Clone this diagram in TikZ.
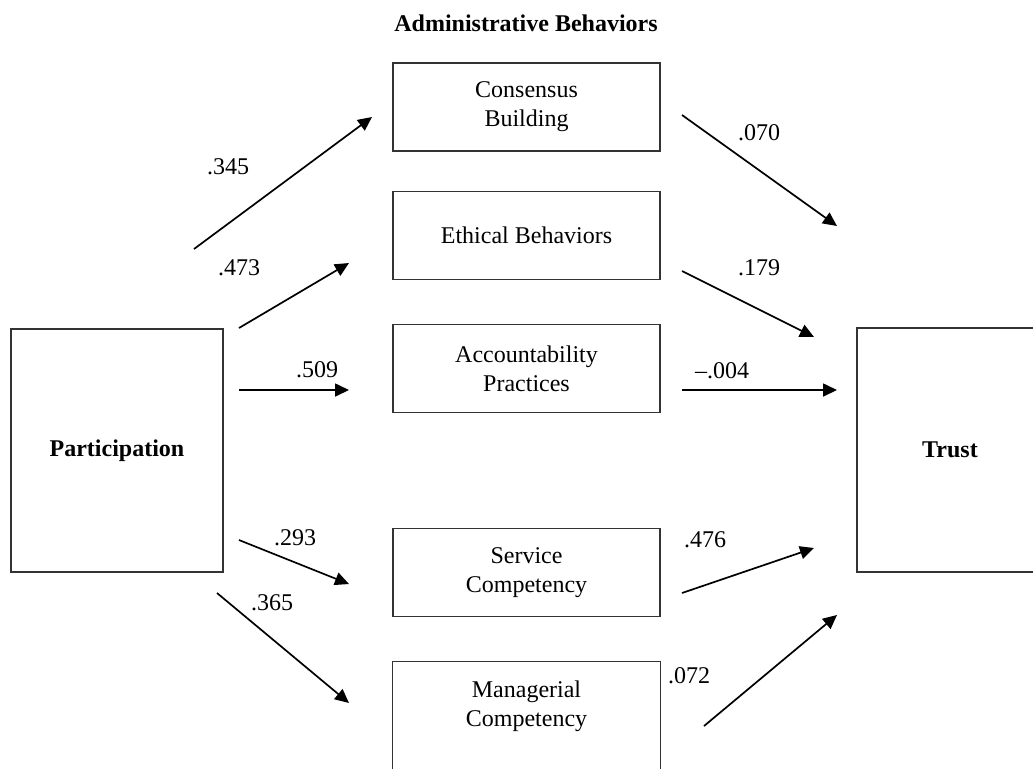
\documentclass[tikz,border=0pt]{standalone}
\usepackage{fontspec}
\setmainfont{Liberation Serif}
\usetikzlibrary{arrows.meta,positioning}

\tikzset{
  box/.style={rectangle, draw=black!80, line width=0.6pt, minimum width=133.5pt, minimum height=44pt, align=center, inner sep=0pt},
  link/.style={-{Triangle[length=7pt,width=6.5pt]}, line width=0.85pt},
  coef/.style={inner sep=0pt}
}

\begin{document}
\begin{tikzpicture}[x=0.5pt, y=-0.5pt, font=\fontsize{12}{14.5}\selectfont]
    \useasboundingbox (0,0) rectangle (1033,768);

    \node[font=\fontsize{12}{14.5}\selectfont\bfseries] (title) at (526,23) {Administrative Behaviors};

    \node[box, minimum width=106pt, minimum height=121.5pt, font=\fontsize{12}{14.5}\selectfont\bfseries] (part) at (117,450.5) {Participation};
    \node[box, minimum width=93pt, minimum height=122pt, font=\fontsize{12}{14.5}\selectfont\bfseries] (trust) at (950,450) {Trust};

    \node[box] (cons) at (526.5,107) {Consensus\\Building};
    \node[box, below=19.5pt of cons] (ethic) {Ethical Behaviors};
    \node[box, below=22pt of ethic] (acct) {Accountability\\Practices};
    \node[box, below=57.5pt of acct] (serv) {Service\\Competency};
    \node[box, draw=none, below=22pt of serv] (mgr) {Managerial\\Competency};
    \draw[black!80, line width=0.6pt] (mgr.north west) ++(0,120) -- (mgr.north west) -- (mgr.north east) -- ++(0,120);

    % arrow ends
    \coordinate (p-cons) at (194,249);
    \coordinate (cons-in) at (372,117);
    \coordinate (p-ethic) at (239,328);
    \coordinate (ethic-in) at (349,263);
    \coordinate (p-acct) at (239,390);
    \coordinate (acct-in) at (349,390);
    \coordinate (p-serv) at (239,540);
    \coordinate (serv-in) at (349,584);
    \coordinate (p-mgr) at (217,593);
    \coordinate (mgr-in) at (349,703);
    \coordinate (cons-out) at (682,115);
    \coordinate (t-cons) at (837,226);
    \coordinate (ethic-out) at (682,271);
    \coordinate (t-ethic) at (814,337);
    \coordinate (acct-out) at (682,390);
    \coordinate (t-acct) at (837,390);
    \coordinate (serv-out) at (682,593);
    \coordinate (t-serv) at (814,548);
    \coordinate (mgr-out) at (704,726);
    \coordinate (t-mgr) at (837,615);

    \draw[link] (p-cons) -- (cons-in);
    \draw[link] (p-ethic) -- (ethic-in);
    \draw[link] (p-acct) -- (acct-in);
    \draw[link] (p-serv) -- (serv-in);
    \draw[link] (p-mgr) -- (mgr-in);
    \draw[link] (cons-out) -- (t-cons);
    \draw[link] (ethic-out) -- (t-ethic);
    \draw[link] (acct-out) -- (t-acct);
    \draw[link] (serv-out) -- (t-serv);
    \draw[link] (mgr-out) -- (t-mgr);

    % coefficients
    \node[coef] (c-cons) at (228,167) {.345};
    \node[coef] (c-ethic) at (239,268) {.473};
    \node[coef] (c-acct) at (317,370) {.509};
    \node[coef] (c-serv) at (295,538) {.293};
    \node[coef] (c-mgr) at (272,603) {.365};
    \node[coef] (t-c-cons) at (759,133) {.070};
    \node[coef] (t-c-ethic) at (759,268) {.179};
    \node[coef] (t-c-acct) at (722,371) {--.004};
    \node[coef] (t-c-serv) at (705,540) {.476};
    \node[coef] (t-c-mgr) at (689,676) {.072};
\end{tikzpicture}
\end{document}
